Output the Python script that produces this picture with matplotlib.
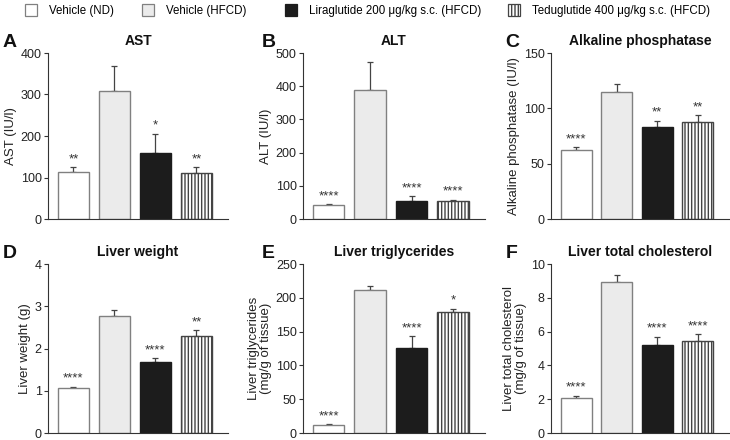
import matplotlib
matplotlib.use("Agg")
import matplotlib.pyplot as plt
from matplotlib.patches import Patch

plt.rcParams['font.family'] = ['Liberation Sans', 'DejaVu Sans']
plt.rcParams['hatch.linewidth'] = 1.0
plt.rcParams['hatch.color'] = '#222222'

groups = ["Vehicle (ND)", "Vehicle (HFCD)", "Liraglutide 200 \u03bcg/kg s.c. (HFCD)",
          "Teduglutide 400 \u03bcg/kg s.c. (HFCD)"]

ast_mean = [113, 308, 160, 112]
ast_err = [12, 60, 45, 13]
ast_sig = ["**", "", "*", "**"]

alt_mean = [42, 390, 55, 55]
alt_err = [3, 83, 13, 3]
alt_sig = ["****", "", "****", "****"]

alp_mean = [62, 115, 83, 88]
alp_err = [3, 7, 6, 6]
alp_sig = ["****", "", "**", "**"]

lw_mean = [1.06, 2.78, 1.67, 2.29]
lw_err = [0.03, 0.12, 0.10, 0.14]
lw_sig = ["****", "", "****", "**"]

tg_mean = [12, 211, 126, 179]
tg_err = [1, 7, 17, 5]
tg_sig = ["****", "", "****", "*"]

tc_mean = [2.1, 8.95, 5.2, 5.45]
tc_err = [0.1, 0.4, 0.5, 0.4]
tc_sig = ["****", "", "****", "****"]

panels = [
    ("A", "AST", "AST (IU/l)", ast_mean, ast_err, ast_sig, 400, 100),
    ("B", "ALT", "ALT (IU/l)", alt_mean, alt_err, alt_sig, 500, 100),
    ("C", "Alkaline phosphatase", "Alkaline phosphatase (IU/l)", alp_mean, alp_err, alp_sig, 150, 50),
    ("D", "Liver weight", "Liver weight (g)", lw_mean, lw_err, lw_sig, 4, 1),
    ("E", "Liver triglycerides", "Liver triglycerides\n(mg/g of tissue)", tg_mean, tg_err, tg_sig, 250, 50),
    ("F", "Liver total cholesterol", "Liver total cholesterol\n(mg/g of tissue)", tc_mean, tc_err, tc_sig, 10, 2),
]

faces = ["white", "#ebebeb", "#1c1c1c", "white"]
edges = ["#808080", "#808080", "#1c1c1c", "#444444"]
hatches = [None, None, None, "|||||"]

fig = plt.figure(figsize=(7.3, 4.4), dpi=100)

lefts = [48, 303, 551]
rights = [228, 485, 729]
rows = [(53, 219), (264, 433)]
letter_x = [[3, 262, 505], [3, 262, 506]]
legend_x = [25, 142, 285, 508]
W, H = 730.0, 440.0

spine_c = "#333333"
for i, (letter, title, ylabel, mean, err, sig, ymax, step) in enumerate(panels):
    r, c = divmod(i, 3)
    top, bot = rows[r]
    ax = fig.add_axes([lefts[c] / W, 1 - bot / H, (rights[c] - lefts[c]) / W, (bot - top) / H])
    x = list(range(len(mean)))
    for j in x:
        ax.bar(j, mean[j], width=0.76, color=faces[j], edgecolor=edges[j], linewidth=1.0,
               hatch=hatches[j], zorder=2)
        ax.errorbar(j, mean[j], yerr=[[0], [err[j]]], fmt='none', ecolor="#444444",
                    elinewidth=0.9, capsize=2.5, capthick=0.9, zorder=1)
        if sig[j]:
            ax.text(j, mean[j] + err[j] + ymax * 0.012, sig[j], ha='center', va='bottom',
                    fontsize=9.5, color="#333333")
    ax.set_xlim(-0.62, 3.77)
    ax.set_ylim(0, ymax)
    ax.set_yticks([k * step for k in range(int(round(ymax / step)) + 1)])
    ax.set_xticks([])
    for s in ['top', 'right']:
        ax.spines[s].set_visible(False)
    for s in ['left', 'bottom']:
        ax.spines[s].set_color(spine_c)
        ax.spines[s].set_linewidth(0.8)
    ax.tick_params(axis='y', direction='out', length=3, width=0.8, color=spine_c,
                   labelsize=9, labelcolor="#222222", pad=1.5)
    ax.set_ylabel(ylabel, fontsize=9.5, color="#222222", labelpad=3, linespacing=1.0)
    ax.set_title(title, fontsize=10, fontweight='bold', pad=6, color="#111111")
    fig.text(letter_x[r][c] / W, 1 - (top - 6) / H, letter, fontsize=14,
             fontweight='bold', ha='left', va='baseline', color="#111111")

for j in range(4):
    h = Patch(facecolor=faces[j], edgecolor=edges[j], hatch=hatches[j], linewidth=0.9)
    fig.legend([h], [groups[j]], loc='upper left', bbox_to_anchor=(legend_x[j] / W, 1 - 4.5 / H),
               frameon=False, fontsize=8.3, handlelength=1.0, handleheight=1.2,
               handletextpad=1.05, borderaxespad=0.0, borderpad=0.0)

fig.savefig("out.png", dpi=100)
